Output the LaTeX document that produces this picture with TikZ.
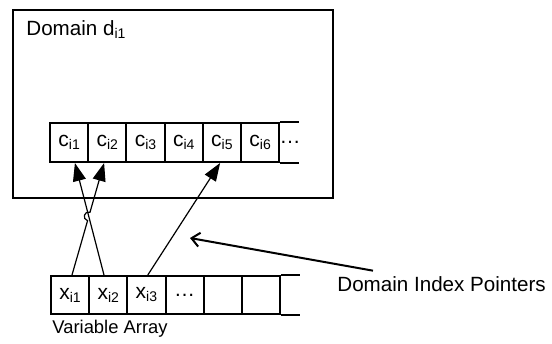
\documentclass[tikz,border=0pt]{standalone}
\usepackage{fontspec}
\setmainfont{Liberation Sans}
\usetikzlibrary{arrows.meta,calc,intersections}
% small lowered index after a letter
\newcommand\idx[1]{\raisebox{-1.5pt}{\fontsize{7}{8}\selectfont #1}}
\begin{document}
\begin{tikzpicture}[x=0.5pt,y=-0.5pt,
  frame/.style={draw,line width=1pt,inner sep=0pt},
  cell/.style={draw,line width=1pt,inner sep=0pt,minimum width=19.1pt,minimum height=19.5pt,font=\fontsize{10.5}{12}\selectfont},
  lbl/.style={inner sep=0pt,anchor=base west,font=\fontsize{10.3}{12}\selectfont},
  ptr/.style={line width=0.6pt,-{Triangle[length=9pt,width=6.5pt]}},
  hint/.style={line width=1pt,-{Straight Barb[length=4pt,width=7pt,line width=1pt]}}]
\useasboundingbox (0,0) rectangle (552,343);

% outer domain frame and its title
\node[frame,minimum width=160pt,minimum height=94pt] (dom) at (173,104) {};
\node[lbl] (domlbl) at (26,35) {Domain d\idx{i1}};

% domain value cells
\node[cell] (c1) at (69.1,142.5) {c\idx{i1}};
\node[cell] (c2) at (107.3,142.5) {c\idx{i2}};
\node[cell] (c3) at (145.5,142.5) {c\idx{i3}};
\node[cell] (c4) at (183.7,142.5) {c\idx{i4}};
\node[cell] (c5) at (221.9,142.5) {c\idx{i5}};
\node[cell] (c6) at (260.1,142.5) {c\idx{i6}};
\node[inner sep=0pt,font=\fontsize{10.5}{12}\selectfont] (cdots) at (290,142.5) {\dots};
\draw[line width=1pt] (c6.north east) -- ++(19,0) (c6.south east) -- ++(19,0);

% variable array cells
\node[cell,minimum height=19pt] (x1) at (70,295) {x\idx{i1}};
\node[cell,minimum height=19pt] (x2) at (108.2,295) {x\idx{i2}};
\node[cell,minimum height=19pt] (x3) at (146.4,295) {x\idx{i3}};
\node[cell,minimum height=19pt] (x4) at (184.6,295) {\dots};
\node[cell,minimum height=19pt] (x5) at (222.8,295) {};
\node[cell,minimum height=19pt] (x6) at (261,295) {};
\draw[line width=1pt] (x6.north east) -- ++(19,0) (x6.south east) -- ++(19,0);
\node[lbl,font=\fontsize{9.2}{11}\selectfont] (varlbl) at (52,333) {Variable Array};

% index pointers from variables into the domain
\coordinate (a0) at ([xshift=1pt]x1.north);
\coordinate (a1) at ([xshift=-1.6pt]c2.south);
\coordinate (b0) at ([xshift=-2.1pt]x2.north);
\coordinate (b1) at ([xshift=2.9pt]c1.south);
\path[name path=pa] (a0) -- (a1);
\path[name path=pb] (b0) -- (b1);
\path[name intersections={of=pa and pb,by=X}];
\coordinate (h1) at ($(X)!2.2pt!(a0)$);
\coordinate (h2) at ($(X)!2.2pt!(a1)$);
\draw[ptr] (b0) -- (b1);
\draw[ptr] (a0) -- (h1) .. controls ($(h1)!3pt!90:(X)$) and ($(h2)!3pt!-90:(X)$) .. (h2) -- (a1);
\draw[ptr] ([xshift=0.7pt]x3.north) -- ([xshift=-0.9pt]c5.south);

% caption with its pointer
\node[lbl] (dip) at (337,291) {Domain Index Pointers};
\coordinate (tip) at (190,238);
\draw[hint] ([shift={(18pt,2.5pt)}]dip.north west) -- (tip);
\end{tikzpicture}
\end{document}
